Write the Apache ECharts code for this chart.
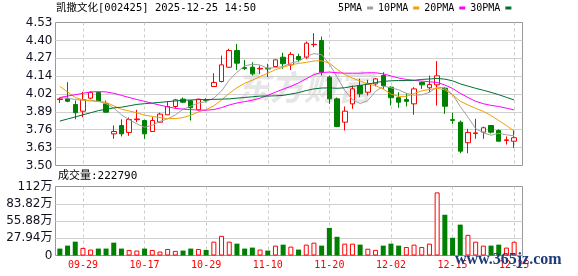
<!DOCTYPE html>
<html><head><meta charset="utf-8">
<script src="https://cdn.jsdelivr.net/npm/echarts@6/dist/echarts.min.js"></script>
<style>html,body{margin:0;padding:0;background:#fff}#c{width:578px;height:276px}</style>
</head><body><div id="c"></div>
<script>
const chartTitle = '凯撒文化[002425] 2025-12-25 14:50';
const dates = ['09-24','09-25','09-26','09-29','09-30','10-09','10-10','10-13','10-14','10-15',
  '10-16','10-17','10-20','10-21','10-22','10-23','10-24','10-27','10-28','10-29',
  '10-30','10-31','11-03','11-04','11-05','11-06','11-07','11-10','11-11','11-12',
  '11-13','11-14','11-17','11-18','11-19','11-20','11-21','11-24','11-25','11-26',
  '11-27','11-28','12-01','12-02','12-03','12-04','12-05','12-08','12-09','12-10',
  '12-11','12-15','12-16','12-17','12-18','12-19','12-22','12-23','12-24','12-25'];
const dateLabelIndexes = [3,11,19,27,35,43,51,59];
const opens = [3.975,3.98,3.939,3.891,3.985,4.026,3.944,3.728,3.788,3.738,
  3.83,3.824,3.745,3.812,3.865,3.925,3.978,3.966,3.901,3.975,
  4.069,4.105,4.208,4.328,4.205,4.208,4.195,4.20,4.213,4.280,
  4.225,4.285,4.280,4.370,4.400,4.136,3.980,3.812,3.944,4.076,
  4.028,4.088,4.148,4.064,3.988,3.975,3.944,4.098,4.060,4.081,
  4.057,3.83,3.812,3.664,3.730,3.740,3.788,3.752,3.68,3.675];
const closes = [3.98,3.963,3.880,3.975,4.026,3.963,3.884,3.745,3.728,3.831,
  3.835,3.728,3.824,3.870,3.925,3.973,3.956,3.916,3.978,3.970,
  4.098,4.225,4.328,4.237,4.198,4.160,4.20,4.195,4.261,4.233,
  4.30,4.263,4.381,4.373,4.172,3.980,3.781,3.891,4.052,4.016,
  4.088,4.124,4.076,3.988,3.956,3.962,4.052,4.081,4.083,4.146,
  3.927,3.825,3.603,3.738,3.735,3.772,3.740,3.675,3.685,3.70];
const lows = [3.95,3.956,3.833,3.848,3.978,3.96,3.88,3.692,3.709,3.714,
  3.812,3.692,3.745,3.81,3.865,3.91,3.95,3.824,3.896,3.955,
  4.069,4.098,4.204,4.188,4.188,4.148,4.16,4.137,4.21,4.196,
  4.188,4.244,4.268,4.352,4.148,3.944,3.776,3.752,3.908,3.992,
  4.004,4.07,4.052,3.932,3.916,3.925,3.865,4.052,4.028,3.932,
  3.872,3.80,3.589,3.589,3.692,3.692,3.73,3.675,3.651,3.627];
const highs = [3.99,4.10,3.968,4.031,4.035,4.03,3.968,3.788,3.833,3.846,
  3.901,3.83,3.848,3.88,3.961,3.98,3.99,3.97,3.98,3.985,
  4.165,4.292,4.341,4.376,4.261,4.244,4.22,4.233,4.265,4.312,
  4.316,4.305,4.393,4.453,4.429,4.148,3.99,3.925,4.076,4.125,
  4.117,4.13,4.172,4.07,4.028,4.02,4.064,4.105,4.148,4.252,
  4.064,3.88,3.824,3.764,3.836,3.78,3.79,3.76,3.709,3.757];
const ma5 = [3.99,3.985,3.975,3.97,3.97,3.962,3.945,3.915,3.865,3.83,
  3.8,3.775,3.789,3.818,3.836,3.864,3.905,3.928,3.95,3.96,
  3.985,4.037,4.115,4.172,4.217,4.23,4.224,4.2,4.205,4.212,
  4.238,4.25,4.285,4.306,4.298,4.232,4.137,4.04,3.975,3.946,
  3.968,4.034,4.071,4.06,4.045,4.02,4.007,4.009,4.027,4.065,
  4.058,4.012,3.925,3.848,3.766,3.735,3.718,3.732,3.721,3.714];
const ma10 = [4.07,4.03,3.99,3.972,3.965,3.962,3.955,3.93,3.905,3.893,
  3.88,3.862,3.854,3.845,3.838,3.838,3.845,3.862,3.886,3.903,
  3.93,3.972,4.02,4.06,4.092,4.115,4.14,4.165,4.19,4.208,
  4.225,4.235,4.243,4.253,4.254,4.238,4.193,4.155,4.13,4.108,
  4.088,4.075,4.05,4.014,3.998,3.998,4.018,4.038,4.047,4.056,
  4.045,4.01,3.963,3.936,3.912,3.89,3.86,3.824,3.788,3.748];
const ma20 = [3.99,4.0,4.01,4.02,4.03,4.032,4.03,4.02,4.005,3.99,
  3.975,3.962,3.948,3.935,3.922,3.912,3.906,3.902,3.9,3.898,
  3.903,3.917,3.936,3.95,3.96,3.97,3.985,4.005,4.028,4.05,
  4.07,4.095,4.125,4.155,4.17,4.173,4.168,4.165,4.165,4.165,
  4.168,4.168,4.16,4.145,4.13,4.12,4.113,4.108,4.103,4.098,
  4.08,4.055,4.02,3.99,3.962,3.945,3.933,3.925,3.913,3.9];
const ma30 = [3.82,3.835,3.85,3.865,3.88,3.895,3.905,3.915,3.92,3.93,
  3.94,3.945,3.95,3.955,3.96,3.965,3.97,3.972,3.975,3.975,
  3.976,3.978,3.98,3.985,3.99,3.995,4.0,4.0,4.002,4.005,
  4.015,4.025,4.04,4.052,4.058,4.059,4.056,4.06,4.07,4.077,
  4.086,4.098,4.106,4.11,4.112,4.112,4.114,4.12,4.123,4.127,
  4.122,4.11,4.088,4.072,4.056,4.042,4.027,4.01,3.991,3.972];
const volumes = [112000,160000,224000,123000,96000,112000,112000,208000,112000,90000,
  80000,112000,90000,64000,106000,75000,80000,112000,106000,90000,
  224000,319000,224000,192000,112000,128000,96000,80000,160000,176000,
  144000,96000,176000,208000,160000,447000,303000,192000,192000,176000,
  110000,91000,160000,192000,160000,138000,176000,138000,192000,1022000,
  660000,287000,500000,335000,224000,160000,160000,176000,128000,222790];
const volumeUp = [0,0,0,1,1,0,0,0,0,1, 1,0,1,1,1,1,0,0,1,0,
  1,1,1,0,0,0,1,0,1,0, 1,0,1,1,0,0,0,1,1,0,
  1,1,0,0,0,1,1,1,1,1, 0,0,0,1,1,1,0,0,1,1];
const maNames = ['5PMA','10PMA','20PMA','30PMA'];
const maColors = ['#a0a0a0','#f0a000','#ff00ff','#006f32'];
const priceTicks = ['3.50','3.63','3.76','3.89','4.02','4.14','4.27','4.40','4.53'];
const volumeTicks = ['0','27.94万','55.88万','83.82万','112万'];
const priceMin = 3.50, priceMax = 4.53, priceStep = (4.53 - 3.50) / 8;
const volMax = 1117600, volStep = 279400;

const chart = echarts.init(document.getElementById('c'), null, {renderer: 'canvas'});
const showIdx = (i) => dateLabelIndexes.indexOf(i) >= 0;
const mono = "'DejaVu Sans Mono','Noto Sans CJK SC',monospace";
const candleData = dates.map((d, i) => [opens[i], closes[i], lows[i], highs[i]]);
const volData = volumes.map((v, i) => ({
  value: v,
  itemStyle: volumeUp[i] ? {color: '#ffffff', borderColor: '#ff0000', borderWidth: 1} : {color: '#008000'}
}));
const mas = [ma5, ma10, ma20, ma30];
const catAxis = (gi, labels) => ({
  gridIndex: gi, type: 'category', data: dates, boundaryGap: true,
  axisLine: {show: false}, axisTick: {show: false},
  axisLabel: {show: labels, interval: showIdx, color: '#ff0000', fontFamily: mono, fontSize: 10, margin: 5},
  splitLine: {show: true, interval: showIdx, alignWithLabel: true, lineStyle: {color: '#cccccc', type: [3, 3], width: 1}}
});
const option = {
  animation: false,
  backgroundColor: '#ffffff',
  title: {text: chartTitle, left: 56, top: 3, padding: 0,
    textStyle: {fontSize: 10.5, fontWeight: 'normal', color: '#000', fontFamily: mono}},
  legend: {data: maNames, left: 338, top: 3, padding: 0, itemGap: 5, itemWidth: 6, itemHeight: 3,
    icon: 'rect', align: 'right', selectedMode: false,
    textStyle: {fontFamily: mono, fontSize: 10, color: '#000'}},
  grid: [
    {left: 56, top: 22.5, width: 462, height: 143, show: false, outerBoundsMode: 'none'},
    {left: 56, top: 186.5, width: 462, height: 69, show: false, outerBoundsMode: 'none'},
    {left: 55.5, top: 22.5, width: 467, height: 143, show: true, borderColor: '#999999', borderWidth: 1, backgroundColor: 'transparent', outerBoundsMode: 'none'},
    {left: 55.5, top: 186.5, width: 467, height: 69, show: true, borderColor: '#999999', borderWidth: 1, backgroundColor: 'transparent', outerBoundsMode: 'none'}
  ],
  xAxis: [
    catAxis(0, false),
    catAxis(1, true),
    {gridIndex: 2, type: 'value', show: false, min: 0, max: 1},
    {gridIndex: 3, type: 'value', show: false, min: 0, max: 1}
  ],
  yAxis: [
    {gridIndex: 0, type: 'value', min: priceMin, max: priceMax, show: false},
    {gridIndex: 1, type: 'value', min: 0, max: volMax, show: false},
    {gridIndex: 2, type: 'value', min: priceMin, max: priceMax, interval: priceStep,
      axisLine: {show: false}, axisTick: {show: false},
      axisLabel: {margin: 3, color: '#111122', fontFamily: "'DejaVu Sans',sans-serif", fontSize: 12,
        formatter: (v) => priceTicks[Math.round((v - priceMin) / priceStep)]},
      splitLine: {show: true, showMinLine: false, showMaxLine: false, lineStyle: {color: '#d0d0d0', width: 1}}},
    {gridIndex: 3, type: 'value', min: 0, max: volMax, interval: volStep,
      axisLine: {show: false}, axisTick: {show: false},
      axisLabel: {margin: 3, color: '#111122', fontFamily: "'DejaVu Sans','Noto Sans CJK SC',sans-serif", fontSize: 12,
        formatter: (v) => volumeTicks[Math.round(v / volStep)]},
      splitLine: {show: true, showMinLine: false, showMaxLine: false, lineStyle: {color: '#d0d0d0', width: 1}}}
  ],
  graphic: [
    {type: 'text', left: 236, top: 70, z: 0, silent: true,
      style: {text: '东方财富', fill: '#e6e6e6', font: 'italic bold 34px "Noto Sans CJK SC"'}},
    {type: 'text', left: 58, top: 171, silent: true,
      style: {text: '成交量:' + volumes[volumes.length - 1], fill: '#000', font: "11px 'DejaVu Sans Mono','Noto Sans CJK SC'"}},
    {type: 'text', left: 455, top: 252, z: 100, silent: true,
      style: {text: 'www.365jz.com', fill: '#1e3c78', font: 'bold 16px "Liberation Serif"'}}
  ],
  series: [
    {type: 'candlestick', name: 'K', xAxisIndex: 0, yAxisIndex: 0, data: candleData, barWidth: 5, z: 3,
      itemStyle: {color: '#ffffff', color0: '#008000', borderColor: '#ff0000', borderColor0: '#008000', borderWidth: 1}},
    ...maNames.map((n, k) => ({
      type: 'line', name: n, xAxisIndex: 0, yAxisIndex: 0, data: mas[k], showSymbol: false, symbol: 'none',
      z: 4, itemStyle: {color: maColors[k]}, lineStyle: {color: maColors[k], width: 1}
    })),
    {type: 'bar', name: 'VOL', xAxisIndex: 1, yAxisIndex: 1, data: volData, barWidth: 5, z: 3}
  ]
};
chart.setOption(option);
</script></body></html>
